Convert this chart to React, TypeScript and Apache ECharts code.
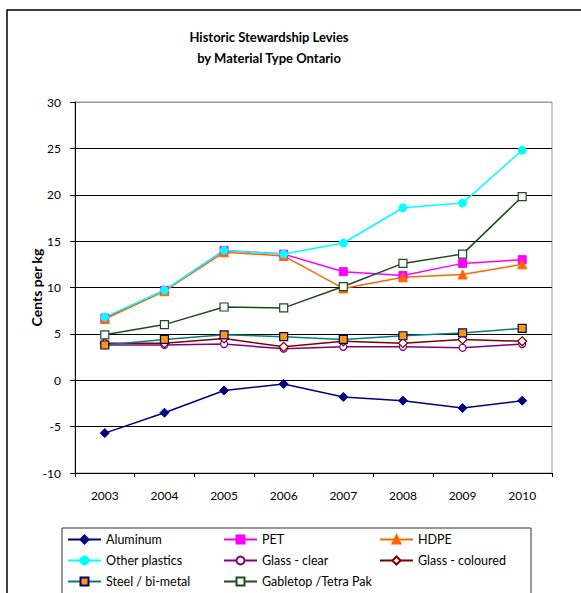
import React, { useEffect, useRef } from "react";
import * as echarts from "echarts";

const years = ["2003", "2004", "2005", "2006", "2007", "2008", "2009", "2010"];
const aluminum = [-5.7, -3.5, -1.1, -0.4, -1.8, -2.2, -3.0, -2.2];
const pet = [6.7, 9.7, 14.0, 13.6, 11.7, 11.3, 12.6, 13.0];
const hdpe = [6.6, 9.6, 13.8, 13.4, 9.9, 11.1, 11.4, 12.5];
const otherPlastics = [6.8, 9.7, 14.0, 13.6, 14.8, 18.6, 19.1, 24.8];
const glassClear = [3.8, 3.8, 3.9, 3.4, 3.6, 3.6, 3.5, 3.9];
const glassColoured = [4.0, 4.0, 4.5, 3.6, 4.2, 4.0, 4.4, 4.2];
const steel = [3.8, 4.4, 4.9, 4.7, 4.4, 4.8, 5.1, 5.6];
const gabletop = [4.9, 6.0, 7.9, 7.8, 10.1, 12.6, 13.6, 19.8];
const yTicks = { min: -10, max: 30, interval: 5 };
const seriesNames = [
  "Aluminum",
  "PET",
  "HDPE",
  "Other plastics",
  "Glass - clear",
  "Glass - coloured",
  "Steel / bi-metal",
  "Gabletop /Tetra Pak",
];

const FONT = "Lato";

export default function App() {
  const ref = useRef<HTMLDivElement>(null);
  useEffect(() => {
    if (!ref.current) return;
    const chart = echarts.init(ref.current, undefined, { renderer: "svg" });
    const mk = (
      name: string,
      data: number[],
      color: string,
      symbol: string,
      size: number,
      fill: string,
      border: string,
      bw = 1
    ) => ({
      name,
      type: "line",
      data,
      symbol,
      symbolSize: size,
      showAllSymbol: true,
      lineStyle: { color, width: 1.5 },
      itemStyle: { color: fill, borderColor: border, borderWidth: bw },
      color,
    });
    const colX = [67, 223, 379];
    const rowY = [533, 554, 575];
    const legends = seriesNames.map((n, i) => ({
      left: colX[i % 3],
      top: rowY[Math.floor(i / 3)],
      padding: 0,
      itemWidth: 33,
      itemHeight: 10,
      data: [n],
      textStyle: { fontFamily: FONT, fontSize: 12.5, color: "#000" },
    }));
    chart.setOption({
      animation: false,
      backgroundColor: "#fff",
      title: {
        text: "Historic Stewardship Levies\nby Material Type Ontario",
        left: 264,
        textAlign: "center",
        top: 21,
        textStyle: { fontFamily: FONT, fontSize: 13, fontWeight: "bold", color: "#000", lineHeight: 21 },
      },
      grid: { left: 75, top: 102, width: 477, height: 371, show: true, borderColor: "#999", borderWidth: 1 },
      legend: legends,
      xAxis: {
        type: "category",
        data: years,
        boundaryGap: true,
        axisLine: { onZero: false, lineStyle: { color: "#000", width: 1 } },
        axisTick: { show: true, alignWithLabel: false, length: 4, lineStyle: { color: "#000" } },
        axisLabel: { fontFamily: FONT, fontSize: 12, color: "#000", margin: 16 },
      },
      yAxis: {
        type: "value",
        min: yTicks.min,
        max: yTicks.max,
        interval: yTicks.interval,
        name: "Cents per kg",
        nameLocation: "middle",
        nameGap: 32,
        nameMoveOverlap: false,
        nameRotate: 90,
        nameTextStyle: { fontFamily: FONT, fontSize: 14, fontWeight: "bold", color: "#000" },
        axisLine: { show: true, lineStyle: { color: "#000", width: 1 } },
        axisTick: { show: true, length: 5, lineStyle: { color: "#000" } },
        axisLabel: { fontFamily: FONT, fontSize: 12, color: "#000", margin: 14 },
        splitLine: {
          show: true,
          lineStyle: { color: ["#000", "#000", "#000", "#000", "#000", "#000", "#000", "#000", "#999"], width: 1 },
        },
      },
      graphic: [
        {
          type: "rect",
          shape: { x: 7, y: 10, width: 700, height: 700 },
          style: { fill: "none", stroke: "#000", lineWidth: 1.5 },
          silent: true,
        },
        {
          type: "rect",
          shape: { x: 62, y: 528, width: 469, height: 70 },
          style: { fill: "none", stroke: "#333", lineWidth: 1 },
          silent: true,
        },
      ],
      series: [
        mk(seriesNames[0], aluminum, "#000080", "diamond", 9, "#000080", "#000080"),
        mk(seriesNames[1], pet, "#FF00FF", "rect", 8, "#FF00FF", "#FF00FF"),
        mk(seriesNames[2], hdpe, "#FF6600", "triangle", 9, "#FF6600", "#FF6600"),
        mk(seriesNames[3], otherPlastics, "#00FFFF", "circle", 8, "#00FFFF", "#00FFFF"),
        mk(seriesNames[4], glassClear, "#800080", "circle", 7, "#fff", "#800080", 1.2),
        mk(seriesNames[5], glassColoured, "#800000", "diamond", 9, "#fff", "#800000", 1.2),
        mk(seriesNames[6], steel, "#008080", "rect", 8, "#FF9900", "#000080", 1.2),
        mk(seriesNames[7], gabletop, "#1E4A1E", "rect", 8, "#fff", "#1E4A1E", 1.2),
      ],
    });
    return () => chart.dispose();
  }, []);
  return (
    <div
      ref={ref}
      style={{ position: "absolute", left: 0, top: 0, width: 581, height: 593 }}
    />
  );
}
